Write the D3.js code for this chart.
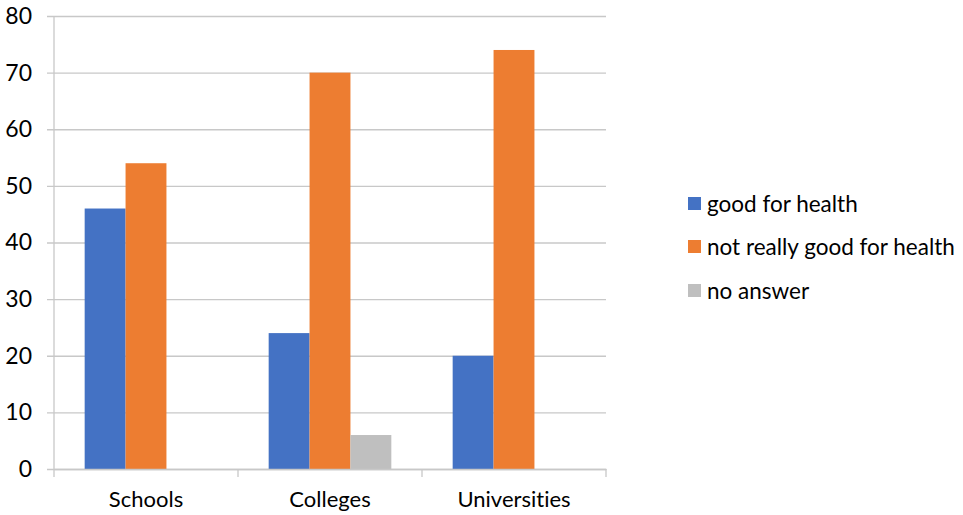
<!DOCTYPE html>
<html><head><meta charset="utf-8">
<script src="https://cdn.jsdelivr.net/npm/d3@7"></script>
<style>body{margin:0;background:#fff}svg{display:block}text{font-family:Lato,"Open Sans",sans-serif;fill:#000;font-variant-ligatures:none;font-feature-settings:"liga" 0,"clig" 0}</style>
</head><body><svg id="c" width="963" height="515"></svg>
<script>
const categories = ["Schools", "Colleges", "Universities"];
const seriesNames = ["good for health", "not really good for health", "no answer"];
const goodForHealth = [46, 24, 20];
const notReallyGood = [54, 70, 74];
const noAnswer = [0, 6, 0];
const yTicks = [0, 10, 20, 30, 40, 50, 60, 70, 80];
const colors = ["#4472C4", "#ED7D31", "#BFBFBF"];
const seriesValues = [goodForHealth, notReallyGood, noAnswer];

const svg = d3.select("#c");
const L = 54, R = 606, T = 16, B = 469;
const x0 = d3.scaleBand().domain(categories).range([L, R]).padding(0);
const x1 = d3.scaleBand().domain(seriesNames).range([0, x0.bandwidth()]).paddingInner(0).paddingOuter(0.75);
const y = d3.scaleLinear().domain([0, 80]).range([B, T]);
const gridC = "#C8C8C8";

// gridlines + y labels
const yAxis = d3.axisLeft(y).tickValues(yTicks).tickSize(-(R - L)).tickPadding(22);
const gy = svg.append("g").attr("transform", `translate(${L},0)`).call(yAxis);
gy.select(".domain").remove();
gy.selectAll(".tick line").attr("x1", -7).attr("x2", R - L).attr("stroke", gridC).attr("stroke-width", 1.3);
gy.selectAll(".tick text").attr("font-size", 23).attr("font-family", "Lato, sans-serif").attr("fill", "#000");

// vertical axis line
svg.append("line").attr("x1", L).attr("x2", L).attr("y1", T).attr("y2", B).attr("stroke", gridC).attr("stroke-width", 1.3);

// bars
categories.forEach((c, i) => {
  seriesNames.forEach((s, j) => {
    const v = seriesValues[j][i];
    if (v > 0) svg.append("rect")
      .attr("x", x0(c) + x1(s)).attr("width", x1.bandwidth())
      .attr("y", y(v)).attr("height", y(0) - y(v)).attr("fill", colors[j]);
  });
});

// x axis
const xAxis = d3.axisBottom(x0).tickSize(0).tickPadding(22);
const gx = svg.append("g").attr("transform", `translate(0,${B})`).call(xAxis);
gx.select(".domain").attr("stroke", gridC).attr("stroke-width", 1.3);
gx.selectAll(".tick text").attr("font-size", 22).attr("font-family", "Lato, sans-serif").attr("fill", "#000");
const boundaries = categories.map(c => x0(c)).concat([R]);
svg.append("g").selectAll("line").data(boundaries).join("line")
  .attr("x1", d => d).attr("x2", d => d).attr("y1", B).attr("y2", B + 8)
  .attr("stroke", gridC).attr("stroke-width", 1.3);

// legend
const lg = svg.append("g").attr("transform", "translate(688,0)");
const ly = [204, 247, 291];
seriesNames.forEach((s, j) => {
  lg.append("rect").attr("x", 0).attr("y", ly[j] - 7).attr("width", 13).attr("height", 13).attr("fill", colors[j]);
  lg.append("text").attr("x", 19).attr("y", ly[j]).attr("dy", "0.35em").attr("font-size", 22.5).text(s);
});
</script></body></html>
